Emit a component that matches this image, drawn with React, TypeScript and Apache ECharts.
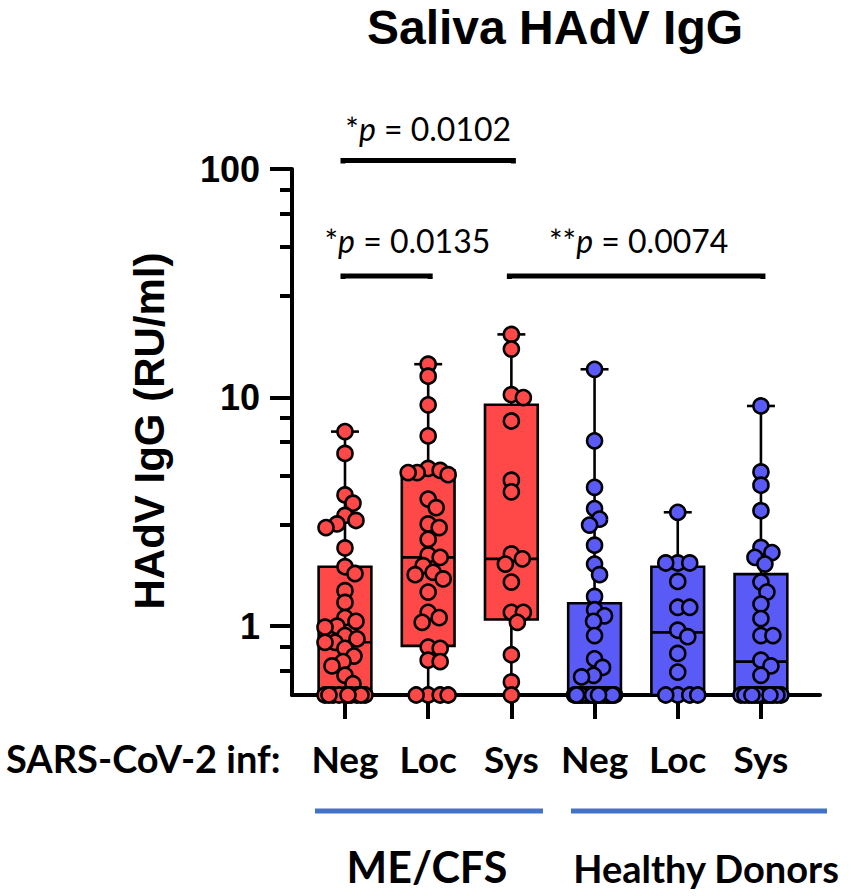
import React, { useEffect, useRef } from 'react';
import * as echarts from 'echarts';

// ---------- data ----------
const categories = ['Neg', 'Loc', 'Sys', 'Neg', 'Loc', 'Sys'];
const groupOf = ['me', 'me', 'me', 'hd', 'hd', 'hd'];

const meNeg = [7.1, 5.7, 3.75, 3.45, 3.05, 2.9, 2.8, 2.7, 2.2, 1.82, 1.7, 1.43, 1.27, 1.09, 1.05, 1.0, 0.99, 0.91, 0.88, 0.85, 0.85, 0.8, 0.74, 0.7, 0.67, 0.61, 0.56, 0.5, 0.5, 0.5, 0.5, 0.5, 0.5, 0.5, 0.5, 0.5, 0.5];
const meLoc = [14.0, 12.4, 9.3, 6.8, 4.9, 4.8, 4.7, 4.7, 4.6, 3.6, 3.3, 2.8, 2.7, 2.4, 2.05, 2.0, 1.84, 1.72, 1.68, 1.61, 1.41, 1.15, 1.09, 1.04, 0.81, 0.8, 0.71, 0.7, 0.5, 0.5, 0.5, 0.5];
const meSys = [18.9, 16.3, 10.3, 10.0, 7.9, 4.35, 3.87, 2.07, 1.97, 1.87, 1.56, 1.15, 1.15, 1.04, 0.75, 0.57, 0.5];
const hdNeg = [13.3, 6.47, 4.05, 3.27, 2.94, 2.77, 2.26, 1.87, 1.68, 1.35, 1.18, 1.11, 1.05, 0.91, 0.72, 0.66, 0.61, 0.6, 0.5, 0.5, 0.5, 0.5, 0.5, 0.5, 0.5, 0.5, 0.5, 0.5, 0.5, 0.5, 0.5, 0.5, 0.5, 0.5, 0.5, 0.5, 0.5, 0.5, 0.5, 0.5];
const hdLoc = [3.15, 1.89, 1.89, 1.89, 1.57, 1.21, 1.21, 0.96, 0.9, 0.76, 0.63, 0.5, 0.5, 0.5, 0.5];
const hdSys = [9.19, 4.73, 4.14, 3.2, 2.21, 2.1, 2.0, 1.87, 1.56, 1.41, 1.25, 1.08, 0.91, 0.91, 0.71, 0.67, 0.61, 0.5, 0.5, 0.5, 0.5, 0.5, 0.5, 0.5, 0.5, 0.5, 0.5, 0.5, 0.5, 0.5];
const groupValues = [meNeg, meLoc, meSys, hdNeg, hdLoc, hdSys];

// box statistics
const boxMin = [0.5, 0.5, 0.5, 0.5, 0.5, 0.5];
const boxQ1 = [0.5, 0.82, 1.07, 0.5, 0.5, 0.5];
const boxMedian = [0.85, 2.0, 1.97, 0.5, 0.94, 0.7];
const boxQ3 = [1.82, 4.8, 9.3, 1.26, 1.82, 1.69];
const boxMax = [7.1, 14.0, 18.9, 13.3, 3.15, 9.19];

// axis ticks
const majorTicks = [1, 10, 100];
const minorTicks = [0.64, 0.815, 2.79, 4.57, 6.4, 8.15, 27.9, 45.7, 64, 81.5];
const categoryTicks = [0, 1, 2, 3, 4, 5];

// significance annotations
const pFrom = [0, 0, 2];
const pTo = [2, 1, 5];
const pStars = ['*', '*', '**'];
const pValues = ['0.0102', '0.0135', '0.0074'];

// ---------- layout / style (not data) ----------
const annLevel = [109, 34, 34];
const annTextLevel = [150, 48.6, 48.6];
const annTextX = [1.0, 0.75, 3.53];

const RED = '#FF4848';
const BLUE = '#5A5AF7';
const colorOf = (g: string) => (g === 'me' ? RED : BLUE);
const ARIAL = '"Liberation Sans", Arial, Helvetica, sans-serif';
const CAL = 'Lato, "Open Sans", sans-serif';
const BOX_HALF = 0.317;
const CAP_HALF = 0.168;

function swarm(ys: number[], minDist: number, maxOff: number): number[] {
  const placed: { x: number; y: number }[] = [];
  const offs: number[] = new Array(ys.length).fill(0);
  const order = ys.map((_, i) => i).sort((a, b) => ys[a] - ys[b]);
  for (const i of order) {
    const y = ys[i];
    let best = 0;
    let bestScore = -Infinity;
    for (let k = 0; k <= maxOff * 2; k++) {
      const cand = (k % 2 === 1 ? 1 : -1) * Math.ceil(k / 2);
      let md = Infinity;
      for (const p of placed) {
        const d = Math.hypot(p.x - cand, p.y - y);
        if (d < md) md = d;
      }
      if (md >= minDist) {
        best = cand;
        bestScore = Infinity;
        break;
      }
      if (md > bestScore + 0.01) {
        bestScore = md;
        best = cand;
      }
    }
    offs[i] = best;
    placed.push({ x: best, y });
  }
  return offs;
}

export default function App() {
  const ref = useRef<HTMLDivElement>(null);

  useEffect(() => {
    document.body.style.margin = '0';
    const chart = echarts.init(ref.current as HTMLDivElement, null, { renderer: 'svg' });

    const boxData = categories.map((_, i) => [i, boxMin[i], boxQ1[i], boxMedian[i], boxQ3[i], boxMax[i]]);

    const logAxisBase = {
      type: 'log',
      logBase: 10,
      min: 0.5,
      max: 100,
      position: 'left',
      splitLine: { show: false },
      minorTick: { show: false },
      minorSplitLine: { show: false },
    };

    chart.setOption({
      animation: false,
      backgroundColor: '#ffffff',
      grid: { left: 292, right: 31, top: 169, bottom: 201, containLabel: false },
      xAxis: {
        type: 'value',
        min: -0.637,
        max: 5.71,
        splitLine: { show: false },
        axisLine: { show: true, onZero: false, lineStyle: { color: '#000', width: 4 } },
        axisTick: { show: true, customValues: categoryTicks, length: 24, lineStyle: { color: '#000', width: 4 } },
        axisLabel: {
          show: true,
          customValues: categoryTicks,
          formatter: (v: number) => categories[Math.round(v)] ?? '',
          margin: 44,
          color: '#000',
          fontFamily: CAL,
          fontWeight: 'bold',
          fontSize: 37,
          lineHeight: 38,
        },
      },
      yAxis: [
        {
          ...logAxisBase,
          axisLine: { show: true, onZero: false, lineStyle: { color: '#000', width: 4 } },
          axisTick: { show: true, customValues: majorTicks, length: 22, lineStyle: { color: '#000', width: 4 } },
          axisLabel: {
            show: true,
            customValues: majorTicks,
            formatter: (v: number) => String(Math.round(v)),
            margin: 32,
            color: '#000',
            fontFamily: ARIAL,
            fontWeight: 'bold',
            fontSize: 36,
          },
        },
        {
          ...logAxisBase,
          axisLine: { show: false, onZero: false },
          axisTick: { show: true, customValues: minorTicks, length: 12, lineStyle: { color: '#000', width: 4 } },
          axisLabel: { show: false },
        },
      ],
      series: [
        {
          type: 'custom',
          id: 'boxes',
          xAxisIndex: 0,
          yAxisIndex: 0,
          data: boxData,
          encode: { x: 0, y: [1, 2, 3, 4, 5] },
          clip: false,
          z: 2,
          renderItem: (params: any, api: any) => {
            const i = api.value(0);
            const c = api.coord([i, api.value(3)]);
            const cx = c[0];
            const yMin = api.coord([i, api.value(1)])[1];
            const yQ1 = api.coord([i, api.value(2)])[1];
            const yMed = c[1];
            const yQ3 = api.coord([i, api.value(4)])[1];
            const yMax = api.coord([i, api.value(5)])[1];
            const half = api.coord([i + BOX_HALF, api.value(3)])[0] - cx;
            const capHalf = api.coord([i + CAP_HALF, api.value(3)])[0] - cx;
            const color = colorOf(groupOf[i]);
            const line = (x1: number, y1: number, x2: number, y2: number) => ({
              type: 'line',
              shape: { x1, y1, x2, y2 },
              style: { stroke: '#000', lineWidth: 2.6 },
            });
            return {
              type: 'group',
              children: [
                line(cx, yMax, cx, yQ3),
                line(cx, yQ1, cx, yMin),
                line(cx - capHalf, yMax, cx + capHalf, yMax),
                line(cx - capHalf, yMin, cx + capHalf, yMin),
                {
                  type: 'rect',
                  shape: { x: cx - half, y: yQ3, width: 2 * half, height: yQ1 - yQ3 },
                  style: { fill: color, stroke: '#000', lineWidth: 2.6 },
                },
                line(cx - half, yMed, cx + half, yMed),
              ],
            };
          },
        },
        {
          type: 'scatter',
          id: 'me',
          xAxisIndex: 0,
          yAxisIndex: 0,
          data: [],
          symbol: 'circle',
          symbolSize: 15,
          clip: false,
          z: 5,
          itemStyle: { color: RED, borderColor: '#000', borderWidth: 2.6, opacity: 1 },
        },
        {
          type: 'scatter',
          id: 'hd',
          xAxisIndex: 0,
          yAxisIndex: 0,
          data: [],
          symbol: 'circle',
          symbolSize: 15,
          clip: false,
          z: 5,
          itemStyle: { color: BLUE, borderColor: '#000', borderWidth: 2.6, opacity: 1 },
        },
      ],
    });

    // ---- phase 2: spread the points horizontally (beeswarm in pixel space) ----
    const px = (x: number) => chart.convertToPixel({ xAxisIndex: 0 }, x) as number;
    const py = (y: number) => chart.convertToPixel({ yAxisIndex: 0 }, y) as number;
    const unit = px(1) - px(0);

    const meData: number[][] = [];
    const hdData: number[][] = [];
    groupValues.forEach((vals, i) => {
      const ys = vals.map((v) => py(v));
      const offs = swarm(ys, 11.5, 20);
      vals.forEach((v, k) => {
        const pt = [i + offs[k] / unit, v];
        (groupOf[i] === 'me' ? meData : hdData).push(pt);
      });
    });

    const graphics: any[] = [];
    // title
    graphics.push({
      type: 'text',
      x: 555,
      y: 27,
      style: { text: 'Saliva HAdV IgG', font: `bold 48px ${ARIAL}`, fill: '#000', align: 'center', verticalAlign: 'middle' },
    });
    // y axis title
    graphics.push({
      type: 'text',
      x: 149,
      y: 431,
      rotation: Math.PI / 2,
      style: { text: 'HAdV IgG (RU/ml)', font: `bold 42px ${ARIAL}`, fill: '#000', align: 'center', verticalAlign: 'middle' },
    });
    // x-axis leading label
    graphics.push({
      type: 'text',
      x: 6,
      y: 758,
      style: { text: 'SARS-CoV-2 inf:', font: `bold 38px ${CAL}`, fill: '#000', align: 'left', verticalAlign: 'middle' },
    });
    // group lines
    graphics.push({ type: 'line', shape: { x1: 315, y1: 811, x2: 543, y2: 811 }, style: { stroke: '#4472C4', lineWidth: 5 } });
    graphics.push({ type: 'line', shape: { x1: 571, y1: 811, x2: 827, y2: 811 }, style: { stroke: '#4472C4', lineWidth: 5 } });
    graphics.push({
      type: 'text',
      x: 427,
      y: 866,
      style: { text: 'ME/CFS', font: `bold 43px ${CAL}`, fill: '#000', align: 'center', verticalAlign: 'middle' },
    });
    graphics.push({
      type: 'text',
      x: 706,
      y: 868,
      style: { text: 'Healthy Donors', font: `bold 38px ${CAL}`, fill: '#000', align: 'center', verticalAlign: 'middle' },
    });
    // significance brackets
    pFrom.forEach((f, k) => {
      const x1 = px(f) - 2;
      const x2 = px(pTo[k]) + 2;
      const y = py(annLevel[k]);
      graphics.push({
        type: 'polyline',
        shape: { points: [[x1, y + 3], [x1, y], [x2, y], [x2, y + 3]] },
        style: { stroke: '#000', lineWidth: 5, fill: null },
      });
      graphics.push({
        type: 'text',
        x: px(annTextX[k]),
        y: py(annTextLevel[k]),
        style: {
          text: `{n|${pStars[k]}}{i|p}{n| = ${pValues[k]}}`,
          align: 'center',
          verticalAlign: 'middle',
          rich: {
            n: { fontFamily: CAL, fontSize: 32, fill: '#000', color: '#000' },
            i: { fontFamily: CAL, fontSize: 32, fontStyle: 'italic', fill: '#000', color: '#000' },
          },
        },
      });
    });

    chart.setOption({
      series: [{ id: 'me', data: meData }, { id: 'hd', data: hdData }],
      graphic: graphics,
    });

    return () => chart.dispose();
  }, []);

  return <div ref={ref} style={{ position: 'fixed', left: 0, top: 0, width: 851, height: 896 }} />;
}
